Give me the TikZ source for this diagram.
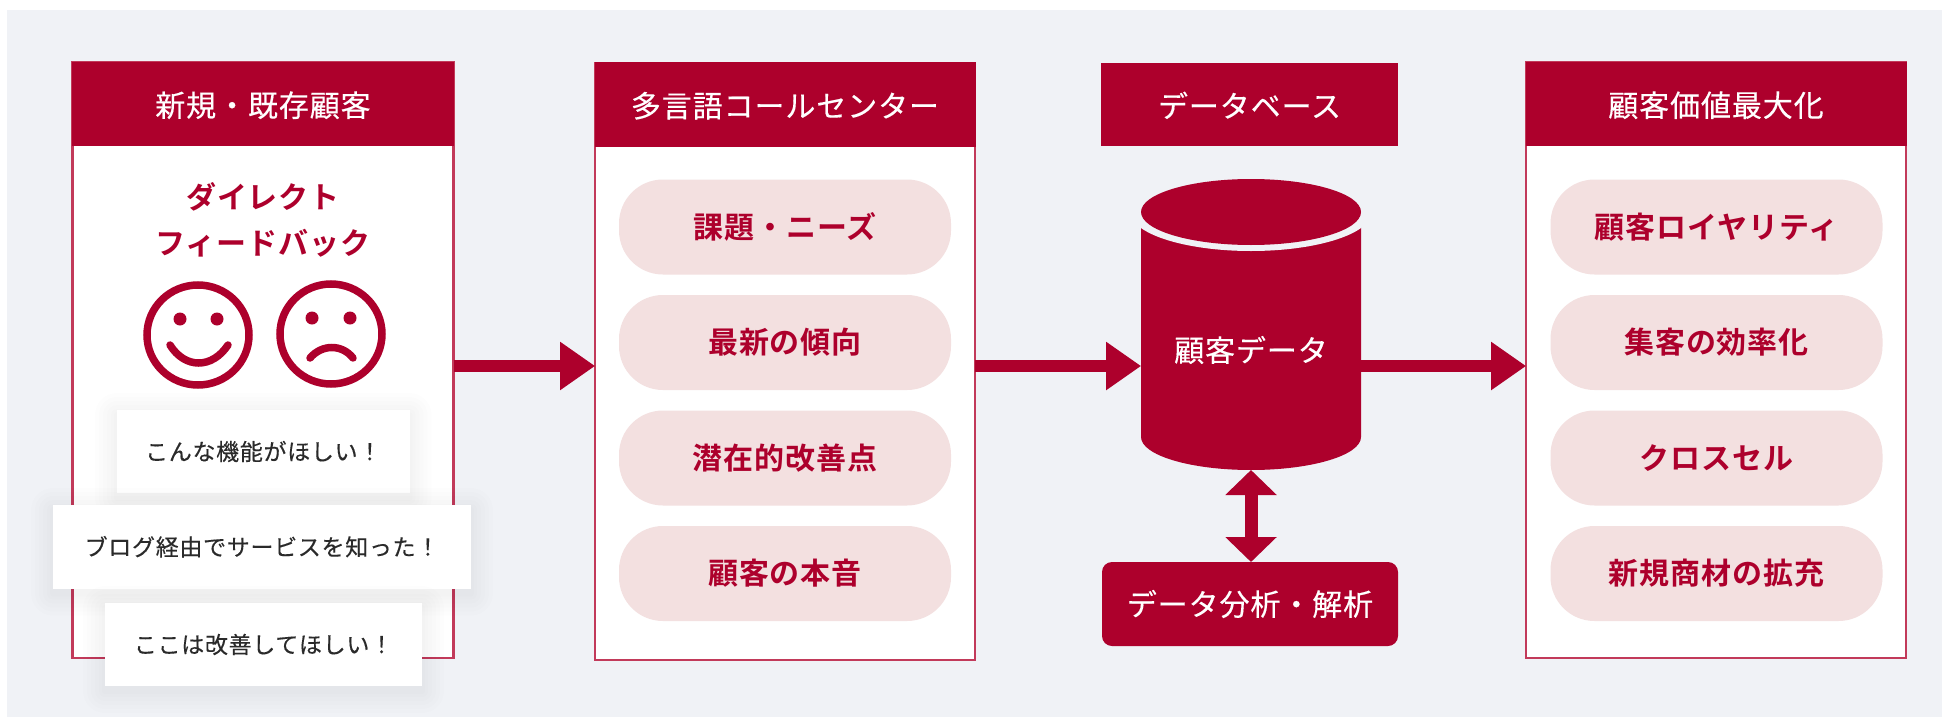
\documentclass[tikz,border=0pt]{standalone}
\usepackage{fontspec}
\usetikzlibrary{arrows.meta,calc}
\setmainfont{Noto Sans CJK JP}
\newfontfamily\jp[LetterSpace=3,FakeBold=0.35]{Noto Sans CJK JP}
\newfontfamily\jpc[LetterSpace=3,FakeBold=0.25]{Noto Sans CJK JP}
\newfontfamily\jpb[LetterSpace=3]{Noto Sans CJK JP Bold}
\definecolor{mainred}{HTML}{AD002C}
\definecolor{boxline}{HTML}{C23A5A}
\definecolor{pagebg}{HTML}{F0F2F6}
\definecolor{pillbg}{HTML}{F3E0E0}
\definecolor{cardtext}{HTML}{2A2A2A}
\tikzset{
  x=1pt,y=-1pt,
  panel/.style={draw=boxline,line width=2.5pt,fill=white,inner sep=0pt,outer sep=0pt},
  header/.style={fill=mainred,text=white,inner sep=0pt,outer sep=0pt,text depth=0pt,font=\jp\fontsize{30}{34}\selectfont},
  pill/.style={fill=pillbg,text=mainred,inner sep=0pt,outer sep=0pt,rounded corners=44pt,minimum width=332pt,minimum height=95pt,font=\jpb\fontsize{30}{34}\selectfont},
  card/.style={fill=white,text=cardtext,inner sep=0pt,outer sep=0pt,font=\jpc\fontsize{23}{26}\selectfont},
  flow/.style={draw=mainred,line width=12pt,-{Triangle[length=35pt,width=46pt]},shorten >=-0.1pt},
  dualflow/.style={draw=mainred,line width=13pt,{Triangle[length=25pt,width=50pt]}-{Triangle[length=25pt,width=50pt]}},
  facestroke/.style={draw=mainred,line width=7.5pt,line cap=round},
}
\newcommand{\softshadow}[4]{%
  \foreach \g in {22,18,14,10,6,3}{%
    \fill[black,opacity=0.007,rounded corners=\g pt] (#1-\g,#2-\g+5) rectangle (#3+\g,#4+\g+5);
  }}
\begin{document}
\begin{tikzpicture}
\useasboundingbox (0,0) rectangle (1942,717);
\fill[white] (0,0) rectangle (1942,717);
\fill[pagebg] (7,10) rectangle (1942,717);
\coordinate (axis) at (0,366);
% panels
\node[panel,minimum width=381pt,minimum height=596pt] (p1) at (263,360) {};
\node[panel,minimum width=380pt,minimum height=597pt] (p2) at (785,361.5) {};
\node[panel,minimum width=380pt,minimum height=596pt] (p4) at (1716,360) {};
\node[header,minimum width=382pt,minimum height=84pt] (h1) at (263,104) {新規・既存顧客};
\node[header,minimum width=381pt,minimum height=84pt] (h2) at (785,104.5) {多言語コールセンター};
\node[header,minimum width=297pt,minimum height=83pt] (h3) at (1249.5,104.5) {データベース};
\node[header,minimum width=381pt,minimum height=84pt] (h4) at (1716,104) {顧客価値最大化};
% pills
\node[pill] (a1) at (785,227) {課題・ニーズ};
\node[pill] (a2) at (785,342.5) {最新の傾向};
\node[pill] (a3) at (785,458) {潜在的改善点};
\node[pill] (a4) at (785,573.5) {顧客の本音};
\node[pill] (d1) at (1716.5,227) {顧客ロイヤリティ};
\node[pill] (d2) at (1716.5,342.5) {集客の効率化};
\node[pill] (d3) at (1716.5,458) {クロスセル};
\node[pill] (d4) at (1716.5,573.5) {新規商材の拡充};
% direct feedback
\node[text=mainred,inner sep=0pt,align=center,font=\jpb\fontsize{30}{46}\selectfont] (fb) at (263,220) {ダイレクト\\フィードバック};
% faces
\draw[facestroke] (198,335) ellipse (51 and 50);
\fill[mainred] (180,319) circle (6.5) (217,319) circle (6.5);
\draw[facestroke] (170,345) .. controls (185,369) and (212,369) .. (228,345);
\draw[facestroke] (331,334) ellipse (51 and 50);
\fill[mainred] (312,318) circle (6.5) (350,318) circle (6.5);
\draw[facestroke] (310,358) .. controls (322,344) and (342,344) .. (353,358);
% cards
\softshadow{117}{410}{409.5}{493}
\node[card,minimum width=292.5pt,minimum height=83pt] (c1) at (263.25,451.5) {こんな機能がほしい！};
\softshadow{53}{505}{471}{588.5}
\node[card,minimum width=418pt,minimum height=83.5pt] (c2) at (262,546.75) {ブログ経由でサービスを知った！};
\softshadow{105}{603}{422}{686}
\node[card,minimum width=317pt,minimum height=83pt] (c3) at (263.5,644.5) {ここは改善してほしい！};
% cylinder
\fill[mainred] (1141,212) -- (1361,212)
  -- (1361,437) arc[start angle=0,end angle=180,x radius=110,y radius=33] -- cycle;
\fill[pagebg] (1251,212) ellipse (120.6 and 39);
\fill[mainred] (1251,212) ellipse (110 and 33);
\node[inner sep=0pt,outer sep=0pt,minimum width=220pt,minimum height=291pt] (cyl) at (1251,324.5) {};
\node[text=white,inner sep=0pt,font=\jp\fontsize{30}{34}\selectfont] (cylt) at (1251,350) {顧客データ};
% analysis box
\node[fill=mainred,text=white,inner sep=0pt,outer sep=0pt,rounded corners=10pt,minimum width=296pt,minimum height=84pt,font=\jp\fontsize{30}{34}\selectfont] (an) at (1250,604) {データ分析・解析};
% connectors
\draw[flow] (p1.east |- axis) -- (p2.west |- axis);
\draw[flow] (p2.east |- axis) -- (cyl.west |- axis);
\draw[flow] (cyl.east |- axis) -- (p4.west |- axis);
\draw[dualflow] (cyl.south) -- (an.north -| cyl.south);
\end{tikzpicture}
\end{document}
